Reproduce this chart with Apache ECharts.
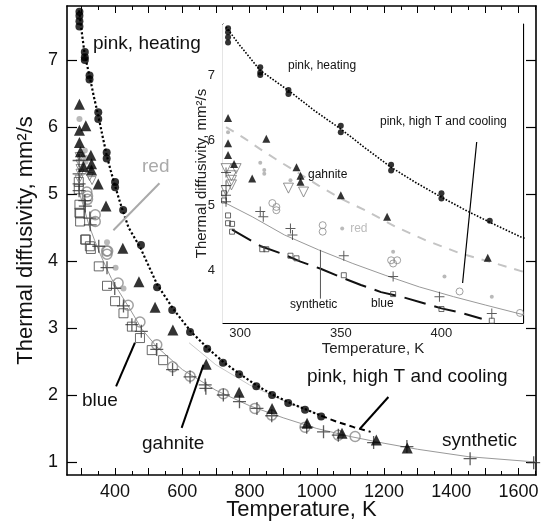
<!DOCTYPE html>
<html><head><meta charset="utf-8">
<script src="https://cdn.jsdelivr.net/npm/echarts@6/dist/echarts.min.js"></script>
<style>html,body{margin:0;padding:0;background:#fff}#c{width:541px;height:522px}</style>
</head><body><div id="c"></div><script>
// ---------- tick labels ----------
const mainXLabels = [400, 600, 800, 1000, 1200, 1400, 1600];
const mainYLabels = [1, 2, 3, 4, 5, 6, 7];
const insetXLabels = [300, 350, 400];
const insetYLabels = [4, 5, 6, 7];

// ---------- data (Temperature K, diffusivity mm2/s) ----------
const pinkHeating = [[294,7.72],[294,7.66],[294,7.58],[294,7.5],[310,7.12],[310,7.04],[310,7.0],[324,6.77],[324,6.71],
  [350,6.22],[350,6.12],[375,5.62],[375,5.53],[400,5.18],[400,5.1],[424,4.76],[477,4.24],[525,3.61],[570,3.27],
  [623,2.94],[674,2.69],[721,2.48],[769,2.31],[820,2.13],[867,2.0],[915,1.88],[965,1.78],[1013,1.68]];
const pinkHeatingFit = [[293,7.74],[300,7.45],[310,7.07],[325,6.74],[337,6.45],[350,6.17],[362,5.88],[375,5.58],[387,5.35],
  [400,5.12],[412,4.92],[425,4.72],[440,4.5],[475,4.2],[525,3.65],[575,3.27],[625,2.95],[675,2.7],[725,2.48],
  [775,2.3],[825,2.13],[875,1.99],[925,1.87],[975,1.77],[1013,1.69]];
const pinkHighTFit = [[1013,1.69],[1060,1.6],[1110,1.52],[1160,1.45]];

const gahnite = [[294,6.34],[294,5.95],[294,5.77],[297,5.63],[306,5.41],[313,6.02],[328,5.58],[330,5.45],[330,5.36],
  [350,5.15],[373,4.82],[423,4.19],[471,3.69],[519,3.31],[572,2.97],[671,2.46],[769,2.04],[867,1.8],[971,1.58],
  [1075,1.43],[1177,1.33],[1269,1.21]];
const gahniteFit = [[293,6.2],[302,6.03],[310,5.86],[318,5.7],[328,5.51],[339,5.3],[350,5.1],[362,4.92],[377,4.67],
  [392,4.46],[409,4.26],[427,4.1],[441,3.97]];
const gahniteFitHigh = [[620,2.78],[700,2.45],[800,2.15],[900,1.92],[1000,1.72]];

const blue = [[292,5.18],[292,5.07],[294,4.84],[294,4.72],[296,4.71],[296,4.59],[311,4.32],[313,4.32],[325,4.22],
  [328,4.18],[351.5,3.92],[376,3.63],[400,3.4],[425,3.22],[450,3.02],[474,2.85],[509,2.67],[543,2.52]];
const blueFit = [[296,4.62],[310,4.37],[320,4.26],[330,4.13],[340,4.02],[350,3.89],[360,3.77],[370,3.66],[380,3.59],
  [390,3.5],[400,3.41],[410,3.34],[420,3.25]];

const synthetic = [[293,5.5],[293,5.3],[293,5.15],[293,5.05],[310,4.9],[311.5,4.82],[325,4.64],[326,4.54],[351.5,4.22],
  [376,3.9],[399,3.59],[425,3.33],[450,3.05],[478,2.95],[524,2.68],[571,2.38],[623,2.27],[668,2.15],[670,2.1],
  [722,2.0],[770,1.9],[822,1.8],[866,1.69],[970,1.52],[1020,1.45],[1064,1.4],[1169,1.29],[1268,1.23],[1456,1.05],[1645,0.99]];
const syntheticFit = [[291.5,5.05],[306,4.82],[322,4.54],[339,4.31],[356,4.1],[372,3.92],[389,3.74],[406,3.59],[422,3.46],
  [441,3.31],[480,2.98],[524,2.72],[600,2.38],[700,2.07],[800,1.84],[900,1.66],[1000,1.5],[1100,1.38],[1200,1.28],
  [1300,1.19],[1450,1.08],[1652,1.0]];

const openCircles = [[316,5.03],[318,4.97],[318,4.92],[341,4.69],[341,4.59],[375,4.15],[378,4.15],[376,4.1],[409,3.67],
  [439,3.34],[474,3.09],[524,2.75],[571,2.42],[623,2.28],[722,2.02],[816,1.8],[866,1.7],[965,1.52],[1064,1.4],[1114,1.38]];
const redDots = [[294,6.12],[310,5.65],[312,5.54],[312,5.48],[325,5.38],[376,4.28],[401.5,3.9],[425,3.59]];
const downTriangles = [[293,5.56],[298,5.56],[295.7,5.45],[295.7,5.38],[295.7,5.31],[293,5.22],[324,5.26],[331.5,5.2]];
const redKey = [[350.7,4.64]];

// pointer lines (data coordinates)
const ptrBlue = [[403,2.13],[459,2.78]];
const ptrGahnite = [[598,1.51],[663,2.45]];
const ptrHighT = [[1129,1.5],[1213,1.97]];
const ptrRed = [[532,5.16],[395,4.46]];
const ptrInsetHighT = [[417.5,5.97],[410.5,3.8]];
const ptrInsetSynth = [[339.9,4.31],[339.9,3.56]];

// ---------- helpers ----------
const FONT = '"Liberation Sans", Arial, sans-serif';
function range(a, b, s, skip) { const r = []; for (let v = a; v <= b + 1e-9; v += s) { if (!skip || Math.abs(v / skip - Math.round(v / skip)) > 1e-6) r.push(+v.toFixed(3)); } return r; }
const PLUS = 'path://M9,0h2v9h9v2h-9v9h-2v-9h-9v-2h9z';
const fmt = v => String(v);

function xAx(grid, pos, min, max, ticks, len, opts) {
  return Object.assign({
    gridIndex: grid, type: 'value', position: pos, min: min, max: max,
    axisLine: { show: false, onZero: false },
    axisTick: { show: true, inside: true, length: len, customValues: ticks, lineStyle: { color: '#000', width: 1 } },
    axisLabel: { show: false, customValues: ticks },
    splitLine: { show: false }, nameMoveOverlap: false
  }, opts || {});
}
function yAx(grid, pos, min, max, ticks, len, opts) {
  return Object.assign({
    gridIndex: grid, type: 'value', position: pos, min: min, max: max,
    axisLine: { show: false, onZero: false },
    axisTick: { show: true, inside: true, length: len, customValues: ticks, lineStyle: { color: '#000', width: 1.2 } },
    axisLabel: { show: false, customValues: ticks },
    splitLine: { show: false }, nameMoveOverlap: false
  }, opts || {});
}
const lineOn = w => ({ show: true, onZero: false, lineStyle: { color: '#000', width: w } });

const MX = [257, 1652], MY = [0.806, 7.806], IX = [291.5, 440.5], IY = [3.185, 7.785];

const xAxes = [
  xAx(0, 'bottom', MX[0], MX[1], range(300, 1600, 100), 7, {
    axisLine: lineOn(1.6),
    axisLabel: { show: true, customValues: mainXLabels, formatter: fmt, margin: 8, fontSize: 18, color: '#111', fontFamily: FONT },
    name: 'Temperature, K', nameLocation: 'middle', nameGap: 24,
    nameTextStyle: { fontSize: 22, color: '#111', fontFamily: FONT, verticalAlign: 'top' }
  }),
  xAx(0, 'bottom', MX[0], MX[1], range(350, 1650, 100), 4),
  xAx(0, 'top', MX[0], MX[1], range(300, 1600, 100), 7, { axisLine: lineOn(1.6) }),
  xAx(0, 'top', MX[0], MX[1], range(350, 1650, 100), 4),
  xAx(1, 'bottom', IX[0], IX[1], range(300, 400, 50), 6, {
    axisLine: lineOn(1.2),
    axisLabel: { show: true, customValues: insetXLabels, formatter: fmt, margin: 4, fontSize: 13, color: '#222', fontFamily: FONT },
    name: 'Temperature, K', nameLocation: 'middle', nameGap: 18,
    nameTextStyle: { fontSize: 15, color: '#222', fontFamily: FONT, verticalAlign: 'top' }
  }),
  xAx(1, 'bottom', IX[0], IX[1], range(295, 440, 5, 50), 3),
  xAx(1, 'top', IX[0], IX[1], range(300, 400, 50), 6, { axisLine: lineOn(1.2) }),
  xAx(1, 'top', IX[0], IX[1], range(295, 440, 5, 50), 3)
];
const yAxes = [
  yAx(0, 'left', MY[0], MY[1], mainYLabels, 10, {
    axisLine: lineOn(1.6),
    axisLabel: { show: true, customValues: mainYLabels, formatter: fmt, margin: 9, fontSize: 18, color: '#111', fontFamily: FONT },
    name: 'Thermal diffusivity, mm²/s', nameLocation: 'middle', nameGap: 30,
    nameTextStyle: { fontSize: 22, color: '#111', fontFamily: FONT }
  }),
  yAx(0, 'right', MY[0], MY[1], mainYLabels, 10, { axisLine: lineOn(1.6) }),
  yAx(1, 'left', IY[0], IY[1], insetYLabels, 7, {
    axisLine: lineOn(1.2),
    axisLabel: { show: true, customValues: insetYLabels, formatter: fmt, margin: 8, fontSize: 13, color: '#222', fontFamily: FONT },
    name: 'Thermal diffusivity, mm²/s', nameLocation: 'middle', nameGap: 14,
    nameTextStyle: { fontSize: 15, color: '#222', fontFamily: FONT }
  }),
  yAx(1, 'right', IY[0], IY[1], insetYLabels, 7, { axisLine: lineOn(1.2) })
];

function idx(inset) { return inset ? { xAxisIndex: 4, yAxisIndex: 2 } : { xAxisIndex: 0, yAxisIndex: 0 }; }
function scat(data, inset, symbol, size, style, extra) {
  return Object.assign({ type: 'scatter', data: data, symbol: symbol, symbolSize: size, itemStyle: style, silent: true, clip: true, z: 3 }, idx(inset), extra || {});
}
function ln(data, inset, style, extra) {
  return Object.assign({ type: 'line', data: data, symbol: 'none', lineStyle: style, silent: true, clip: true, z: 2 }, idx(inset), extra || {});
}

const series = [];
[false, true].forEach(inset => {
  series.push(ln(syntheticFit, inset, { color: '#999', width: 1 }));
  if (inset) {
    series.push(ln(gahniteFit, inset, { color: '#c4c4c4', width: 2, type: [9, 8] }));
    series.push(ln(blueFit, inset, { color: '#111', width: 2, type: [22, 9] }));
  } else {
    series.push(ln(gahniteFitHigh, inset, { color: '#c8c8c8', width: 1 }));
  }
  series.push(ln(pinkHeatingFit, inset, { color: '#000', width: inset ? 1.6 : 2.2, type: 'dotted' }));
  series.push(ln(pinkHighTFit, inset, { color: '#000', width: 2, type: [6, 4] }));
  series.push(scat(blue, inset, 'rect', inset ? 5 : 9, { color: 'rgba(255,255,255,0)', borderColor: '#444', borderWidth: 1 }));
  series.push(scat(downTriangles, inset, 'triangle', inset ? 10 : 8, { color: 'rgba(255,255,255,0)', borderColor: '#777', borderWidth: 1 }, { symbolRotate: 180 }));
  series.push(scat(openCircles, inset, 'circle', inset ? 7 : 10, { color: 'rgba(255,255,255,0)', borderColor: '#888', borderWidth: inset ? 1 : 1.5 }));
  series.push(scat(redDots, inset, 'circle', inset ? 4 : 6, { color: '#a8a8a8' }));
  series.push(scat(synthetic, inset, PLUS, inset ? 10 : 13, { color: '#333' }));
  series.push(scat(gahnite, inset, 'triangle', inset ? 8 : 11, { color: '#000' }));
  series.push(scat(pinkHeating, inset, 'circle', inset ? 6 : 8, { color: '#000' }));
});
// inset legend key "red"
series.push(scat(redKey, true, 'circle', 4, { color: '#aaa' }, {
  label: { show: true, position: 'right', distance: 6, formatter: 'red', fontSize: 12, color: '#aaa', fontFamily: FONT }
}));
// pointers
series.push(ln(ptrBlue, false, { color: '#000', width: 2 }));
series.push(ln(ptrGahnite, false, { color: '#000', width: 2 }));
series.push(ln(ptrHighT, false, { color: '#000', width: 2 }));
series.push(ln(ptrRed, false, { color: '#aaa', width: 2 }));
series.push(ln(ptrInsetHighT, true, { color: '#000', width: 1.2 }));
series.push(ln(ptrInsetSynth, true, { color: '#555', width: 1 }));

function txt(x, y, s, size, color) {
  return { type: 'text', left: x, top: y, z: 50, style: { text: s, fontSize: size, fill: color || '#111', fontFamily: FONT } };
}
const graphics = [
  txt(93, 34, 'pink, heating', 19),
  txt(142, 157, 'red', 19, '#aaa'),
  txt(82, 391, 'blue', 19),
  txt(142, 434, 'gahnite', 19),
  txt(307, 367, 'pink, high T and cooling', 19),
  txt(442, 431, 'synthetic', 19),
  txt(288, 60, 'pink, heating', 12),
  txt(380, 116, 'pink, high T and cooling', 12),
  txt(308, 169, 'gahnite', 12),
  txt(290, 299, 'synthetic', 12),
  txt(371, 298, 'blue', 12)
];

const chart = echarts.init(document.getElementById('c'), null, { renderer: 'canvas' });
chart.setOption({
  animation: false,
  backgroundColor: '#fff',
  grid: [
    { left: 67, top: 6, right: 5, bottom: 47, containLabel: false, outerBoundsMode: 'none' },
    { left: 223, top: 24, width: 300, height: 299, show: true, backgroundColor: '#fff', borderWidth: 0, z: 1, outerBoundsMode: 'none' }
  ],
  xAxis: xAxes,
  yAxis: yAxes,
  series: series,
  graphic: graphics
});
</script></body></html>
